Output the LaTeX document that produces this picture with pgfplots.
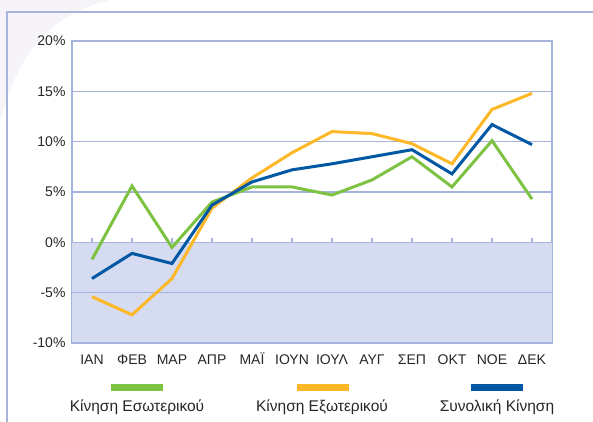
\documentclass[border=0pt]{standalone}
\usepackage{pgfplots}
\pgfplotsset{compat=1.18}
\usepackage{fontspec}
\setmainfont{Liberation Sans}
\definecolor{cgreen}{HTML}{7DC242}
\definecolor{corange}{HTML}{FDB827}
\definecolor{cblue}{HTML}{0057A3}
\definecolor{cgrid}{HTML}{A8B3DB}
\definecolor{cneg}{HTML}{D5DBF0}
\definecolor{cpink}{HTML}{F7F4F9}
\begin{document}
\begin{tikzpicture}[x=1pt,y=1pt]
\useasboundingbox (0pt,0pt) rectangle (593pt,422pt);
\fill[cpink] (0pt,422pt) -- (110pt,422pt) .. controls (60pt,410pt) and (20pt,380pt) .. (0pt,300pt) -- cycle;
\draw[cgrid, line width=1.3pt] (7pt,0pt) -- (7pt,410pt) -- (593pt,410pt);
\begin{axis}[
  at={(72pt,79pt)}, anchor=south west,
  scale only axis, width=480pt, height=302pt,
  xmin=-0.5, xmax=11.5, ymin=-10, ymax=20,
  axis background/.style={fill=white},
  ytick={-10,-5,0,5,10,15,20},
  yticklabels={-10\%,-5\%,0\%,5\%,10\%,15\%,20\%},
  xtick={0,...,11},
  xticklabels={ΙΑΝ,ΦΕΒ,ΜΑΡ,ΑΠΡ,ΜΑΪ,ΙΟΥΝ,ΙΟΥΛ,ΑΥΓ,ΣΕΠ,ΟΚΤ,ΝΟΕ,ΔΕΚ},
  major tick length=0pt,
  ymajorgrids,
  grid style={cgrid, line width=1.3pt},
  axis line style={cgrid, line width=1.3pt},
  tick label style={font=\fontsize{14}{16}\selectfont, text=black!85},
  yticklabel style={xshift=-3pt},
  xticklabel style={text height=9.5pt, text depth=0pt, yshift=-8pt},
  clip=false,
]
\addplot[fill=cneg, draw=none] coordinates {(-0.5,-10) (11.5,-10) (11.5,0) (-0.5,0)} -- cycle;
\draw[cgrid, line width=1.3pt] (axis cs:-0.5,0) -- (axis cs:11.5,0);
\draw[cgrid, line width=1.3pt] (axis cs:-0.5,-5) -- (axis cs:11.5,-5);
\draw[cgrid, line width=1.3pt] (axis cs:-0.5,-10) -- (axis cs:11.5,-10);
\pgfplotsinvokeforeach{0,...,11}{\draw[cgrid, line width=1.2pt] (axis cs:#1,0) -- (axis cs:#1,0.45);}
\addplot[cgreen, line width=3pt] coordinates {
(0,-1.7) (1,5.6) (2,-0.5) (3,4.0) (4,5.5) (5,5.5) (6,4.7) (7,6.2) (8,8.5) (9,5.5) (10,10.1) (11,4.3)};
\addplot[corange, line width=3pt] coordinates {
(0,-5.4) (1,-7.2) (2,-3.6) (3,3.4) (4,6.4) (5,8.9) (6,11.0) (7,10.8) (8,9.8) (9,7.8) (10,13.2) (11,14.8)};
\addplot[cblue, line width=3pt] coordinates {
(0,-3.6) (1,-1.1) (2,-2.1) (3,3.7) (4,6.0) (5,7.2) (6,7.8) (7,8.5) (8,9.2) (9,6.8) (10,11.7) (11,9.7)};
\end{axis}
\fill[cgreen] (111pt,31pt) rectangle (163pt,37.5pt);
\fill[corange] (297pt,31pt) rectangle (349pt,37.5pt);
\fill[cblue] (471pt,31pt) rectangle (523pt,37.5pt);
\node[font=\fontsize{15.5}{17}\selectfont, text=black!85] at (137pt,15pt) {Κίνηση Εσωτερικού};
\node[font=\fontsize{15.5}{17}\selectfont, text=black!85] at (322pt,15pt) {Κίνηση Εξωτερικού};
\node[font=\fontsize{15.5}{17}\selectfont, text=black!85] at (497pt,15pt) {Συνολική Κίνηση};
\end{tikzpicture}
\end{document}
